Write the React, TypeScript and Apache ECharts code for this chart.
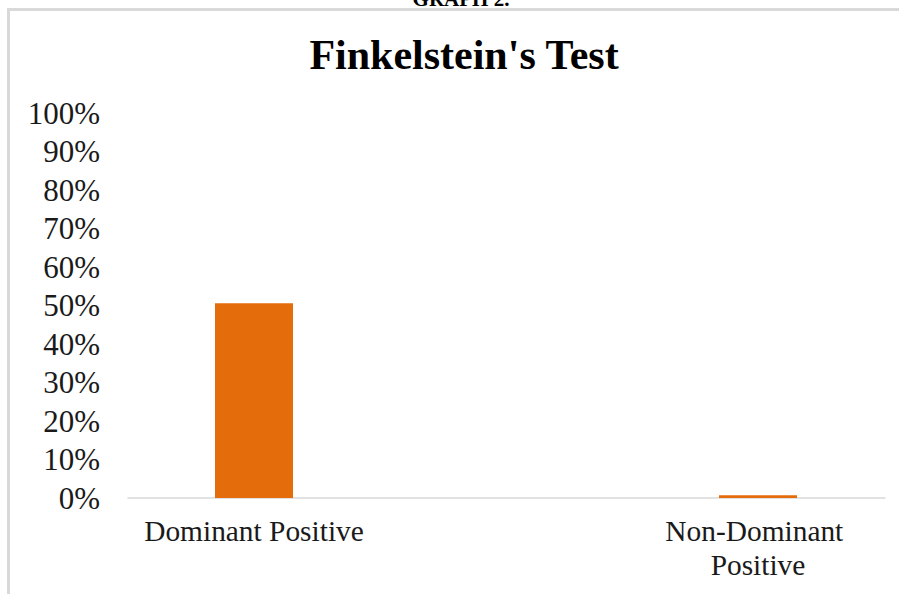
import React, { useEffect, useRef } from "react";
import * as echarts from "echarts";

const categories = ["Dominant Positive", "Non-Dominant Positive"];
const percentPositive = [50.6, 0.7];
const yTicks = [0, 10, 20, 30, 40, 50, 60, 70, 80, 90, 100];
const chartTitle = "Finkelstein's Test";
const caption = "GRAPH 2.";

const SERIF = '"Liberation Serif", "Times New Roman", serif';

export default function App() {
  const ref = useRef<HTMLDivElement>(null);
  useEffect(() => {
    if (!ref.current) return;
    const chart = echarts.init(ref.current, undefined, { renderer: "svg" });
    chart.setOption({
      animation: false,
      backgroundColor: "#ffffff",
      title: {
        text: chartTitle,
        left: 459,
        top: 29,
        textAlign: "center",
        textStyle: {
          fontFamily: SERIF,
          fontWeight: "bold",
          fontSize: 42,
          color: "#000000",
        },
      },
      graphic: [
        {
          type: "rect",
          shape: { x: 8.5, y: 9.5, width: 1000, height: 1000 },
          style: { fill: "none", stroke: "#d9d9d9", lineWidth: 3 },
          silent: true,
        },
        {
          type: "text",
          x: 461,
          y: 9,
          style: {
            text: caption,
            fontFamily: SERIF,
            fontWeight: "bold",
            fontSize: 21,
            fill: "#000000",
            align: "center",
            verticalAlign: "bottom",
          },
        },
      ],
      grid: { left: 128, right: 14, top: 113, bottom: 96, containLabel: false },
      xAxis: {
        type: "value",
        min: -0.25,
        max: 1.252,
        axisLine: { show: true, onZero: false, lineStyle: { color: "#d9d9d9", width: 1.5 } },
        axisTick: { show: false },
        splitLine: { show: false },
        axisLabel: {
          customValues: categories.map((_, i) => i),
          formatter: (v: number) => categories[Math.round(v)] ?? "",
          fontFamily: SERIF,
          fontSize: 29.4,
          color: "#1a1a1a",
          margin: 16,
          width: 250,
          overflow: "break",
          lineHeight: 34,
        },
      },
      yAxis: {
        type: "value",
        min: yTicks[0],
        max: yTicks[yTicks.length - 1],
        interval: 10,
        axisLine: { show: false },
        axisTick: { show: false },
        splitLine: { show: false },
        axisLabel: {
          formatter: (v: number) => `${v}%`,
          fontFamily: SERIF,
          fontSize: 31,
          color: "#1a1a1a",
          margin: 28,
        },
      },
      series: [
        {
          type: "bar",
          barWidth: 78,
          itemStyle: { color: "#E46C0A" },
          data: categories.map((_, i) => [i, percentPositive[i]]),
        },
      ],
    });
    return () => chart.dispose();
  }, []);
  return (
    <div
      ref={ref}
      style={{ position: "fixed", left: 0, top: 0, width: 899, height: 594 }}
    />
  );
}
